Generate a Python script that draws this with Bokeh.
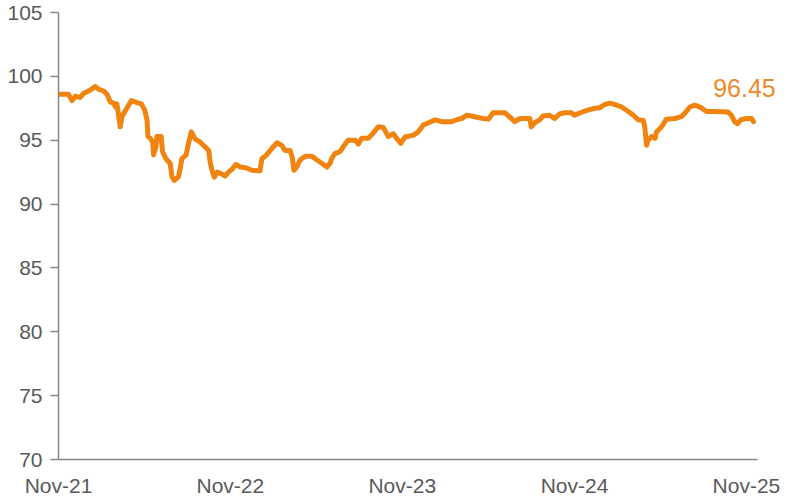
import pandas as pd
from bokeh.plotting import figure
from bokeh.models import FixedTicker, DatetimeTickFormatter, Range1d, ColumnDataSource, Label
from bokeh.embed import file_html
from bokeh.resources import INLINE

dates = [
    "2021-11-01", "2021-11-22", "2021-11-30", "2021-12-07", "2021-12-17", "2021-12-24",
    "2022-01-04", "2022-01-18", "2022-01-25", "2022-02-05", "2022-02-12", "2022-02-19",
    "2022-02-26", "2022-03-02", "2022-03-05", "2022-03-09", "2022-03-12", "2022-03-16",
    "2022-03-26", "2022-04-05", "2022-04-17", "2022-04-26", "2022-05-03", "2022-05-08",
    "2022-05-10", "2022-05-15", "2022-05-20", "2022-05-22", "2022-05-27", "2022-05-29",
    "2022-06-07", "2022-06-10", "2022-06-17", "2022-06-26", "2022-06-30", "2022-07-05",
    "2022-07-14", "2022-07-18", "2022-07-21", "2022-07-30", "2022-08-04", "2022-08-10",
    "2022-08-18", "2022-08-29", "2022-09-09", "2022-09-16", "2022-09-19", "2022-09-23",
    "2022-09-28", "2022-10-04", "2022-10-11", "2022-10-21", "2022-10-28", "2022-11-04",
    "2022-11-13", "2022-11-22", "2022-12-03", "2022-12-17", "2023-01-03", "2023-01-07",
    "2023-01-17", "2023-01-28", "2023-02-08", "2023-02-18", "2023-02-25", "2023-03-08",
    "2023-03-13", "2023-03-16", "2023-03-22", "2023-03-29", "2023-04-09", "2023-04-23",
    "2023-05-04", "2023-05-14", "2023-05-25", "2023-06-01", "2023-06-04", "2023-06-11",
    "2023-06-22", "2023-06-29", "2023-07-09", "2023-07-24", "2023-07-31", "2023-08-07",
    "2023-08-21", "2023-08-31", "2023-09-11", "2023-09-22", "2023-10-02", "2023-10-13",
    "2023-10-20", "2023-10-29", "2023-11-07", "2023-11-25", "2023-12-05", "2023-12-16",
    "2023-12-26", "2024-01-10", "2024-01-24", "2024-02-14", "2024-02-25", "2024-03-06",
    "2024-03-17", "2024-03-27", "2024-04-07", "2024-04-21", "2024-05-02", "2024-05-12",
    "2024-06-06", "2024-06-20", "2024-06-27", "2024-07-08", "2024-07-29", "2024-08-01",
    "2024-08-08", "2024-08-19", "2024-08-26", "2024-09-09", "2024-09-20", "2024-09-30",
    "2024-10-11", "2024-10-25", "2024-11-01", "2024-11-13", "2024-11-24", "2024-12-03",
    "2024-12-14", "2024-12-25", "2025-01-04", "2025-01-15", "2025-01-25", "2025-02-09",
    "2025-02-23", "2025-03-06", "2025-03-16", "2025-03-27", "2025-03-30", "2025-04-03",
    "2025-04-06", "2025-04-14", "2025-04-21", "2025-04-24", "2025-05-05", "2025-05-15",
    "2025-06-02", "2025-06-16", "2025-06-23", "2025-07-04", "2025-07-14", "2025-07-28",
    "2025-08-08", "2025-08-25", "2025-09-23", "2025-09-30", "2025-10-07", "2025-10-13",
    "2025-10-20", "2025-11-02", "2025-11-12", "2025-11-16",
]
values = [
    98.6, 98.6, 98.1, 98.45, 98.35, 98.65,
    98.85, 99.2, 99.0, 98.85, 98.6, 98.0,
    97.9, 97.6, 97.85, 96.85, 96.05, 96.85,
    97.5, 98.1, 97.95, 97.85, 97.35, 96.6,
    95.3, 95.15, 94.85, 93.85, 94.5, 95.3,
    95.3, 94.1, 93.55, 93.2, 92.15, 91.85,
    92.15, 92.9, 93.55, 93.85, 94.75, 95.65,
    95.1, 94.85, 94.45, 94.2, 93.3, 92.65,
    92.1, 92.5, 92.4, 92.2, 92.5, 92.7,
    93.1, 92.9, 92.85, 92.65, 92.6, 93.55,
    93.85, 94.35, 94.8, 94.6, 94.2, 94.2,
    93.55, 92.65, 92.9, 93.45, 93.75, 93.75,
    93.45, 93.2, 92.9, 93.2, 93.55, 93.95,
    94.1, 94.5, 95.0, 95.0, 94.7, 95.15,
    95.15, 95.55, 96.05, 96.0, 95.3, 95.5,
    95.15, 94.75, 95.25, 95.4, 95.65, 96.2,
    96.35, 96.6, 96.45, 96.45, 96.6, 96.7,
    96.95, 96.9, 96.8, 96.7, 96.65, 97.15,
    97.15, 96.7, 96.45, 96.7, 96.7, 96.05,
    96.35, 96.6, 96.9, 96.95, 96.7, 97.05,
    97.15, 97.15, 96.95, 97.15, 97.3, 97.4,
    97.5, 97.55, 97.8, 97.9, 97.8, 97.6,
    97.25, 96.95, 96.6, 96.55, 96.05, 94.6,
    95.0, 95.3, 95.15, 95.65, 96.05, 96.65,
    96.7, 96.85, 97.1, 97.6, 97.75, 97.55,
    97.25, 97.25, 97.2, 96.95, 96.45, 96.3,
    96.6, 96.7, 96.7, 96.45,
]
tick_dates = ["2021-11-01", "2022-11-01", "2023-11-01", "2024-11-01", "2025-11-01"]
y_ticks = [70, 75, 80, 85, 90, 95, 100, 105]

LINE = "#F0840F"
AXIS = "#898989"
TXT = "#595959"

x = pd.to_datetime(dates)
src = ColumnDataSource(dict(x=x, y=values))

# frame extends a little past the axis so the end-value label is not clipped
p = figure(width=790, height=499, x_axis_type="datetime", output_backend="svg",
           toolbar_location=None,
           x_range=Range1d(pd.Timestamp("2021-11-01"), pd.Timestamp("2026-01-23")),
           y_range=Range1d(70, 105),
           min_border_left=58, min_border_right=5, min_border_top=12, min_border_bottom=40)
p.outline_line_color = None
p.grid.visible = False
p.background_fill_color = "white"
p.border_fill_color = "white"

p.line("x", "y", source=src, line_color=LINE, line_width=5, line_join="round", line_cap="round")

lbl = Label(x=x[-1], y=values[-1], text=f"{values[-1]:.2f}", text_color="#EC8A2A",
            text_font="Liberation Sans", text_font_size="25px", text_align="center",
            text_baseline="middle", x_offset=-9, y_offset=34)
p.add_layout(lbl)

xa = p.xaxis[0]
xa.ticker = FixedTicker(ticks=[pd.Timestamp(d).value / 1e6 for d in tick_dates])
xa.bounds = (pd.Timestamp("2021-11-01"), pd.Timestamp("2025-11-24"))
fmt = "%b-%y"
xa.formatter = DatetimeTickFormatter(milliseconds=fmt, seconds=fmt, minsec=fmt, minutes=fmt,
                                     hourmin=fmt, hours=fmt, days=fmt, months=fmt, years=fmt)
xa.major_tick_out = 0
xa.major_tick_in = 0
xa.minor_tick_out = 0
xa.minor_tick_in = 0
xa.major_label_standoff = 14

ya = p.yaxis[0]
ya.ticker = FixedTicker(ticks=y_ticks)
ya.major_tick_out = 8
ya.major_tick_in = 0
ya.minor_tick_out = 0
ya.minor_tick_in = 0
ya.major_label_standoff = 8

for ax in (xa, ya):
    ax.axis_line_color = AXIS
    ax.axis_line_width = 1.5
    ax.major_tick_line_color = AXIS
    ax.major_tick_line_width = 1.5
    ax.major_label_text_font = "Liberation Sans"
    ax.major_label_text_font_size = "21px"
    ax.major_label_text_color = TXT

open("out.html", "w").write(file_html(p, INLINE))
